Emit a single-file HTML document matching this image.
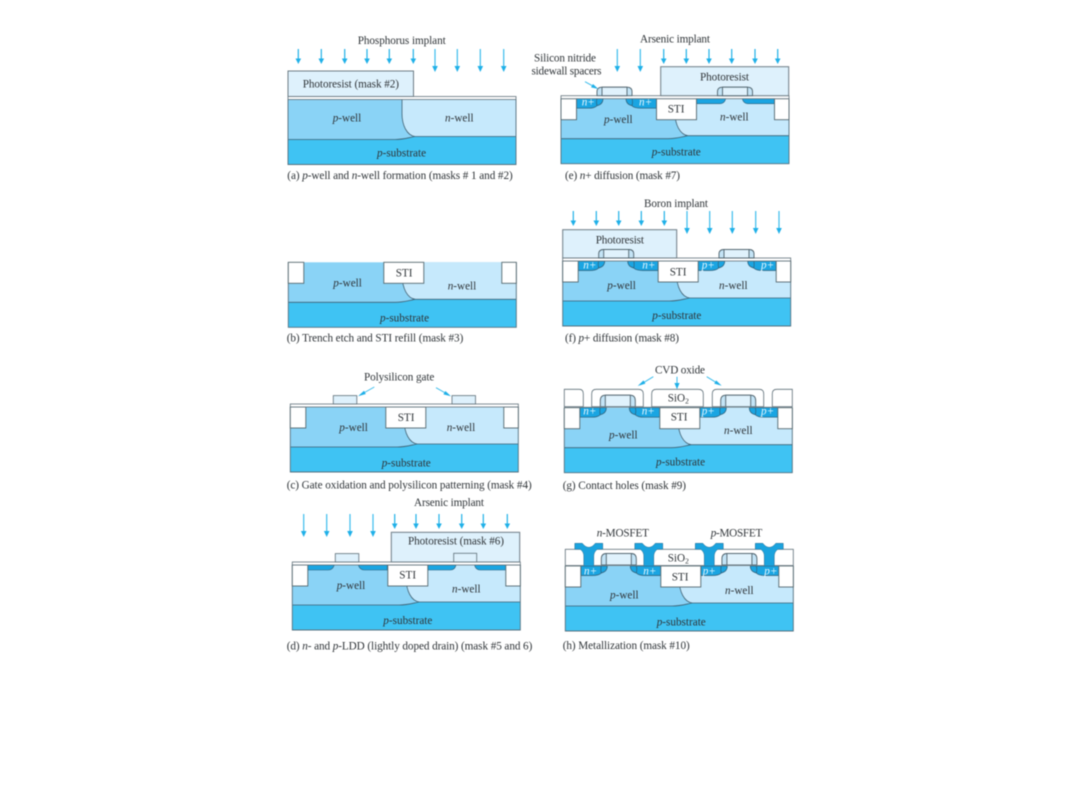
<!DOCTYPE html>
<html><head><meta charset="utf-8"><style>
html,body{margin:0;padding:0;background:#fff;width:1080px;height:810px;overflow:hidden}
svg{display:block;filter:blur(.4px)}
text{font-family:"Liberation Serif",serif;font-size:11.2px;fill:#2f3438}
.i{font-style:italic}
.w{fill:#eaf8fe;font-style:italic}
</style></head><body>
<svg width="1080" height="810" viewBox="0 0 1080 810" xmlns="http://www.w3.org/2000/svg">
<defs>
<g id="base">
<rect x="0" y="0" width="228" height="41" fill="#8ad3f6"/>
<path d="M114,0H228V37H128C119,37 114,28 114,14Z" fill="#c6e9fc"/>
<path d="M0,40H107C116,40 121,38 127,37H228V65H0Z" fill="#3fc3f3"/>
<path d="M0,40H107C116,40 121,38 127,37H228M114,0V14C114,26 119,36 127,37" fill="none" stroke="#3f6275" stroke-width=".8"/>
<path d="M0,0V65H228V0" fill="none" stroke="#55707f" stroke-width=".9"/>
</g>
<g id="sti" fill="#fff" stroke="#55686f" stroke-width=".9">
<rect x="0" y="0" width="15.5" height="21"/>
<rect x="95.5" y="0" width="40" height="21"/>
<rect x="213.5" y="0" width="14.5" height="21"/>
</g>
<rect id="ox" x="0" y="-3" width="228" height="3" fill="#fff" stroke="#5e6f78" stroke-width=".8"/>
<g id="gates" fill="#def1fc" stroke="#5e6f78" stroke-width=".8">
<rect x="43" y="-11.4" width="23.5" height="8.4"/>
<rect x="161.7" y="-11.4" width="23.5" height="8.4"/>
</g>
<g id="sg" stroke="#4f626c" stroke-width=".9">
<path d="M36,-3V-7Q36,-11.5 41,-11.5H66Q71,-11.5 71,-7V-3Z" fill="#c4e4f6"/>
<rect x="41" y="-11.5" width="25" height="8.5" fill="#e0f2fc"/>
</g>
<g id="sg2" stroke="#4f626c" stroke-width=".9">
<path d="M36,-1V-7Q36,-12.5 41,-12.5H66Q71,-12.5 71,-7V-1Z" fill="#c4e4f6"/>
<rect x="41" y="-12.5" width="25" height="11.5" fill="#e0f2fc"/>
</g>
<g id="ldd" fill="#1aa5e2" stroke="#2f5f78" stroke-width=".6">
<path d="M15,0H42C41,3 39,5 36,5H15Z"/>
<path d="M95,0H66C67,3 69,5 72,5H95Z"/>
<path d="M135.5,0H163.7C163,3 161,5 158,5H135.5Z"/>
<path d="M213.5,0H182.2C183,3 185,5 188,5H213.5Z"/>
</g>
<g id="lddR" fill="#1aa5e2" stroke="#2f5f78" stroke-width=".6">
<path d="M135.5,0H164.7C164,3 162,5 159,5H135.5Z"/>
<path d="M213.5,0H181.3C182,3 184,5 187,5H213.5Z"/>
</g>
<g id="ndL" fill="#1aa5e2" stroke="#2f5f78" stroke-width=".7">
<path d="M15.5,0H42C42,4 40,6 36,7C34,9 31,9.5 27,9.5H15.5Z"/>
<path d="M95.5,0H65C65,4 67,6 71,7C73,9 76,9.5 80,9.5H95.5Z"/>
<path d="M36,7Q35,3 36,0M71,7Q72,3 71,0" fill="none"/>
</g>
<g id="ndR" fill="#1aa5e2" stroke="#2f5f78" stroke-width=".7">
<path d="M135.5,0H162C162,4 160,6 156,7C154,9 151,9.5 147,9.5H135.5Z"/>
<path d="M213.5,0H185C185,4 187,6 191,7C193,9 196,9.5 200,9.5H213.5Z"/>
<path d="M156,7Q155,3 156,0M191,7Q192,3 191,0" fill="none"/>
</g>
<g id="as"><path d="M0,0V11" stroke="#1fb0e8" stroke-width="1.2" fill="none"/><path d="M-2.8,9.5L0,15L2.8,9.5Z" fill="#1fb0e8"/></g>
<g id="al"><path d="M0,0V18" stroke="#3bbcec" stroke-width="1.2" fill="none"/><path d="M-2.8,17L0,23L2.8,17Z" fill="#1fb0e8"/></g>
<g id="mt"><path d="M-14,-22.7H-6.5Q-3.5,-18.7 0,-18.7Q3.5,-18.7 6.5,-22.7H14V-16.7H8.5Q5,-14 5,-10V0H-5V-10Q-5,-14 -8.5,-16.7H-14Z" fill="#1ba3de" stroke="#2a6f92" stroke-width=".5"/></g>
</defs>
<rect width="1080" height="810" fill="#fff"/>

<!-- a -->
<g transform="translate(288,99.5)"><use href="#base"/><use href="#ox"/>
<rect x="0" y="-28.5" width="125.5" height="25.5" fill="#def1fc" stroke="#6e7d85" stroke-width="1"/></g>
<use href="#as" x="298.3" y="49"/><use href="#as" x="321.3" y="49"/><use href="#as" x="344.7" y="49"/><use href="#as" x="367" y="49"/><use href="#as" x="389.3" y="49"/><use href="#as" x="413.3" y="49"/>
<use href="#al" x="435" y="49"/><use href="#al" x="457.3" y="49"/><use href="#al" x="480.3" y="49"/><use href="#al" x="503.7" y="49"/>
<text x="357.7" y="44" textLength="88">Phosphorus implant</text>
<text x="302.7" y="87.7" textLength="96.3">Photoresist (mask #2)</text>
<text x="332.7" y="121.7"><tspan class="i">p</tspan>-well</text>
<text x="445" y="121.7"><tspan class="i">n</tspan>-well</text>
<text x="377" y="156.7"><tspan class="i">p</tspan>-substrate</text>
<text x="287.3" y="179" textLength="225.4">(a) <tspan class="i">p</tspan>-well and <tspan class="i">n</tspan>-well formation (masks # 1 and #2)</text>

<!-- b -->
<g transform="translate(288.3,262.3)"><use href="#base"/><use href="#sti"/></g>
<text x="395.7" y="276.7">STI</text>
<text x="333.3" y="286.7"><tspan class="i">p</tspan>-well</text>
<text x="447.7" y="289.7"><tspan class="i">n</tspan>-well</text>
<text x="380" y="321.7"><tspan class="i">p</tspan>-substrate</text>
<text x="286.7" y="341.7" textLength="176.6">(b) Trench etch and STI refill (mask #3)</text>

<!-- c -->
<g transform="translate(290.3,407)"><use href="#base"/><use href="#sti"/><use href="#ox"/><use href="#gates"/></g>
<path d="M374.3,387L361,394.5M436,387.7L448,394.5" stroke="#3bbcec" stroke-width="1" fill="none"/>
<path d="M358,396.3L364,390.8L365.8,394Z M451,396.3L443.4,394.4L445.4,391Z" fill="#1fb0e8"/>
<text x="364" y="380.7" textLength="70.3">Polysilicon gate</text>
<text x="397.7" y="421">STI</text>
<text x="339.3" y="431"><tspan class="i">p</tspan>-well</text>
<text x="446.7" y="431"><tspan class="i">n</tspan>-well</text>
<text x="381.7" y="466.7"><tspan class="i">p</tspan>-substrate</text>
<text x="286.7" y="488.3" textLength="245">(c) Gate oxidation and polysilicon patterning (mask #4)</text>

<!-- d -->
<g transform="translate(292.3,565)"><use href="#base"/><use href="#ldd"/><use href="#sti"/><use href="#ox"/><use href="#gates"/>
<rect x="99" y="-32.7" width="128.4" height="29.7" fill="#def1fc" stroke="#6e7d85" stroke-width="1"/>
<rect x="161.4" y="-11.7" width="23" height="8.7" fill="#def1fc" stroke="#5e6f78" stroke-width=".8"/></g>
<use href="#al" x="303.7" y="514"/><use href="#al" x="326.7" y="514"/><use href="#al" x="350" y="514"/><use href="#al" x="373" y="514"/>
<use href="#as" x="394.7" y="514"/><use href="#as" x="416" y="514"/><use href="#as" x="439" y="514"/><use href="#as" x="461.7" y="514"/><use href="#as" x="483.3" y="514"/><use href="#as" x="507.3" y="514"/>
<text x="414" y="506" textLength="70">Arsenic implant</text>
<text x="408" y="544.3" textLength="96">Photoresist (mask #6)</text>
<text x="399.3" y="578.7">STI</text>
<text x="336.7" y="589"><tspan class="i">p</tspan>-well</text>
<text x="452" y="592.3"><tspan class="i">n</tspan>-well</text>
<text x="383.3" y="624"><tspan class="i">p</tspan>-substrate</text>
<text x="286.7" y="649.3" textLength="245.6">(d) <tspan class="i">n</tspan>- and <tspan class="i">p</tspan>-LDD (lightly doped drain) (mask #5 and 6)</text>

<!-- e -->
<g transform="translate(561,98.7)"><use href="#base"/><use href="#ndL"/><use href="#lddR"/><use href="#sti"/><use href="#ox"/><use href="#sg"/>
<rect x="99.7" y="-32" width="128" height="29" fill="#def1fc" stroke="#6e7d85" stroke-width="1"/>
<use href="#sg" x="120.5"/></g>
<use href="#al" x="617.3" y="49"/><use href="#al" x="640.3" y="49"/>
<use href="#as" x="663.7" y="49"/><use href="#as" x="686.3" y="49"/><use href="#as" x="709" y="49"/><use href="#as" x="731.7" y="49"/><use href="#as" x="755" y="49"/><use href="#as" x="777.7" y="49"/>
<path d="M585,81.7L595,87.2" stroke="#3bbcec" stroke-width="1" fill="none"/><path d="M598.3,89L591,87.4L593,84Z" fill="#1fb0e8"/>
<text x="640" y="42.3" textLength="70">Arsenic implant</text>
<text x="534" y="61.7" textLength="62">Silicon nitride</text>
<text x="531.5" y="74.7" textLength="70">sidewall spacers</text>
<text x="700" y="80.7" textLength="49">Photoresist</text>
<text class="w" x="581.7" y="105.5">n+</text><text class="w" x="639" y="105.5">n+</text>
<text x="667.7" y="112.3">STI</text>
<text x="604" y="123"><tspan class="i">p</tspan>-well</text>
<text x="720" y="120.7"><tspan class="i">n</tspan>-well</text>
<text x="651.7" y="155.7"><tspan class="i">p</tspan>-substrate</text>
<text x="565" y="179" textLength="115">(e) <tspan class="i">n</tspan>+ diffusion (mask #7)</text>

<!-- f -->
<g transform="translate(562.7,261)"><use href="#base"/><use href="#ndL"/><use href="#ndR"/><use href="#sti"/><use href="#ox"/><use href="#sg"/><use href="#sg" x="120.3"/>
<rect x="0" y="-31.3" width="114" height="28.3" fill="#def1fc" stroke="#6e7d85" stroke-width="1"/>
<use href="#sg"/></g>
<use href="#as" x="573.3" y="211"/><use href="#as" x="596.3" y="211"/><use href="#as" x="618.7" y="211"/><use href="#as" x="641.3" y="211"/><use href="#as" x="664.3" y="211"/>
<use href="#al" x="687" y="211"/><use href="#al" x="709.7" y="211"/><use href="#al" x="732.3" y="211"/><use href="#al" x="755.7" y="211"/><use href="#al" x="779" y="211"/>
<text x="644" y="207" textLength="64">Boron implant</text>
<text x="595.7" y="243.3" textLength="48.3">Photoresist</text>
<text class="w" x="583.3" y="268.5">n+</text><text class="w" x="642.3" y="268.5">n+</text><text class="w" x="701.7" y="268.5">p+</text><text class="w" x="761" y="268.5">p+</text>
<text x="669.7" y="275.7">STI</text>
<text x="607.3" y="289"><tspan class="i">p</tspan>-well</text>
<text x="719" y="289"><tspan class="i">n</tspan>-well</text>
<text x="652.3" y="319"><tspan class="i">p</tspan>-substrate</text>
<text x="565" y="341.7" textLength="114">(f) <tspan class="i">p</tspan>+ diffusion (mask #8)</text>

<!-- g -->
<g transform="translate(564.3,407.7)"><use href="#base"/><use href="#ndL"/><use href="#ndR"/><use href="#sti"/>
<g fill="#fff" stroke="#5e6f78" stroke-width=".8">
<path d="M0,-1V-18.4H15Q19,-18.4 19,-14V-1Z"/>
<path d="M27.4,-1V-14Q27.4,-18.4 32,-18.4H74Q79,-18.4 79,-14V-1Z"/>
<path d="M87.4,-1V-14Q87.4,-18.4 92,-18.4H134Q139,-18.4 139,-14V-1Z"/>
<path d="M148,-1V-14Q148,-18.4 152.6,-18.4H195Q199.4,-18.4 199.4,-14V-1Z"/>
<path d="M228,-1V-18.4H212.5Q208,-18.4 208,-14V-1Z"/>
</g>
<use href="#sg2"/><use href="#sg2" x="120.4"/>
<path d="M0,-.5H228" stroke="#7d8a91" stroke-width=".8"/></g>
<path d="M653.3,376.7L641,384.2M677,376.7V384M706.7,376.7L718.6,384" stroke="#3bbcec" stroke-width="1" fill="none"/>
<path d="M637.7,386L643.5,380.4L645.4,383.6Z M677,389.3L674.4,383L679.6,383Z M721.7,385.7L714.2,383.6L716.2,380.4Z" fill="#1fb0e8"/>
<text x="655" y="373.3" textLength="50">CVD oxide</text>
<text x="667.7" y="401.7">SiO<tspan dy="2" font-size="7.5">2</tspan></text>
<text class="w" x="583.3" y="414.5">n+</text><text class="w" x="641.7" y="414.5">n+</text><text class="w" x="701.7" y="414.5">p+</text><text class="w" x="761" y="414.5">p+</text>
<text x="670.7" y="420.7">STI</text>
<text x="609" y="438.3"><tspan class="i">p</tspan>-well</text>
<text x="724" y="434"><tspan class="i">n</tspan>-well</text>
<text x="656" y="465.7"><tspan class="i">p</tspan>-substrate</text>
<text x="562.7" y="489" textLength="123.3">(g) Contact holes (mask #9)</text>

<!-- h -->
<g transform="translate(565.3,566)"><use href="#base"/><use href="#ndL"/><use href="#ndR"/><use href="#sti"/>
<rect x="0" y="-16.7" width="228" height="16.2" fill="#fff" stroke="#5e6f78" stroke-width=".8"/>
<use href="#sg2"/><use href="#sg2" x="120.6"/>
<use href="#mt" x="23.5"/><use href="#mt" x="83.5"/><use href="#mt" x="144"/><use href="#mt" x="204"/>
<path d="M0,-.5H18.5M28.5,-.5H78.5M88.5,-.5H139M149,-.5H199M209,-.5H228" stroke="#7d8a91" stroke-width=".8"/></g>
<text x="596.7" y="536.7" textLength="52.3"><tspan class="i">n</tspan>-MOSFET</text>
<text x="710.7" y="536.7" textLength="51.6"><tspan class="i">p</tspan>-MOSFET</text>
<text x="667.7" y="561.7">SiO<tspan dy="2" font-size="7.5">2</tspan></text>
<text class="w" x="584" y="574.5">n+</text><text class="w" x="643.3" y="574.5">n+</text><text class="w" x="702.7" y="574.5">p+</text><text class="w" x="764.3" y="574.5">p+</text>
<text x="671.7" y="580.7">STI</text>
<text x="610" y="598.3"><tspan class="i">p</tspan>-well</text>
<text x="725" y="594"><tspan class="i">n</tspan>-well</text>
<text x="656.7" y="625.7"><tspan class="i">p</tspan>-substrate</text>
<text x="562.7" y="649" textLength="127">(h) Metallization (mask #10)</text>
</svg>
</body></html>
